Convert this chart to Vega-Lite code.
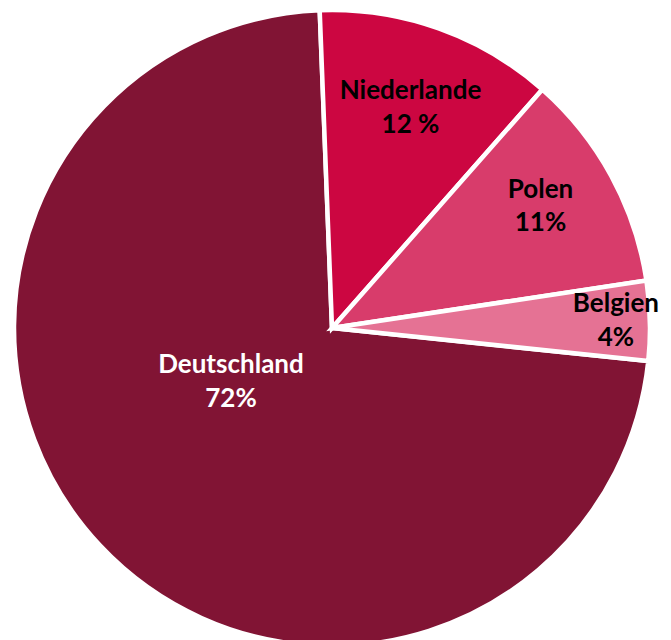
{
  "$schema": "https://vega.github.io/schema/vega-lite/v6.json",
  "autosize": {"type": "fit", "contains": "padding"},
  "width": 671,
  "height": 640,
  "padding": {"left": 0, "top": 16, "right": 7, "bottom": 0},
  "background": "white",
  "view": {"stroke": null},
  "data": {
    "values": [
      {"land": "Deutschland", "anteil": 72, "prozent": "72%"},
      {"land": "Niederlande", "anteil": 12, "prozent": "12 %"},
      {"land": "Polen", "anteil": 11, "prozent": "11%"},
      {"land": "Belgien", "anteil": 4, "prozent": "4%"}
    ]
  },
  "encoding": {
    "theta": {"field": "anteil", "type": "quantitative", "stack": true, "scale": {"range": [1.675, 7.958]}},
    "order": {"field": "anteil", "type": "quantitative", "sort": "descending"}
  },
  "layer": [
    {
      "mark": {"type": "arc", "outerRadius": 318, "stroke": "white", "strokeWidth": 4.5},
      "encoding": {
        "color": {
          "field": "land",
          "type": "nominal",
          "scale": {
            "domain": ["Deutschland", "Niederlande", "Polen", "Belgien"],
            "range": ["#811434", "#cc0641", "#d83c6b", "#e57294"]
          },
          "legend": null
        }
      }
    },
    {
      "mark": {"type": "text", "font": "Lato", "fontSize": 26, "fontWeight": "bold", "color": "black", "dy": -17, "align": "center", "baseline": "middle", "radius": 234},
      "encoding": {"text": {"field": "land"}, "opacity": {"condition": {"test": "datum.land === 'Niederlande'", "value": 1}, "value": 0}}
    },
    {
      "mark": {"type": "text", "font": "Lato", "fontSize": 26, "fontWeight": "bold", "color": "black", "dy": 17, "align": "center", "baseline": "middle", "radius": 234},
      "encoding": {"text": {"field": "prozent"}, "opacity": {"condition": {"test": "datum.land === 'Niederlande'", "value": 1}, "value": 0}}
    },
    {
      "mark": {"type": "text", "font": "Lato", "fontSize": 26, "fontWeight": "bold", "color": "black", "dx": -4, "dy": -22, "align": "center", "baseline": "middle", "radius": 242},
      "encoding": {"text": {"field": "land"}, "opacity": {"condition": {"test": "datum.land === 'Polen'", "value": 1}, "value": 0}}
    },
    {
      "mark": {"type": "text", "font": "Lato", "fontSize": 26, "fontWeight": "bold", "color": "black", "dx": -4, "dy": 11, "align": "center", "baseline": "middle", "radius": 242},
      "encoding": {"text": {"field": "prozent"}, "opacity": {"condition": {"test": "datum.land === 'Polen'", "value": 1}, "value": 0}}
    },
    {
      "mark": {"type": "text", "font": "Lato", "fontSize": 26, "fontWeight": "bold", "color": "black", "dy": -17, "align": "center", "baseline": "middle", "radius": 284},
      "encoding": {"text": {"field": "land"}, "opacity": {"condition": {"test": "datum.land === 'Belgien'", "value": 1}, "value": 0}}
    },
    {
      "mark": {"type": "text", "font": "Lato", "fontSize": 26, "fontWeight": "bold", "color": "black", "dy": 17, "align": "center", "baseline": "middle", "radius": 284},
      "encoding": {"text": {"field": "prozent"}, "opacity": {"condition": {"test": "datum.land === 'Belgien'", "value": 1}, "value": 0}}
    },
    {
      "mark": {"type": "text", "font": "Lato", "fontSize": 26, "fontWeight": "bold", "color": "white", "dx": -20, "dy": -39, "align": "center", "baseline": "middle", "radius": 111},
      "encoding": {"text": {"field": "land"}, "opacity": {"condition": {"test": "datum.land === 'Deutschland'", "value": 1}, "value": 0}}
    },
    {
      "mark": {"type": "text", "font": "Lato", "fontSize": 26, "fontWeight": "bold", "color": "white", "dx": -20, "dy": -5, "align": "center", "baseline": "middle", "radius": 111},
      "encoding": {"text": {"field": "prozent"}, "opacity": {"condition": {"test": "datum.land === 'Deutschland'", "value": 1}, "value": 0}}
    }
  ]
}
